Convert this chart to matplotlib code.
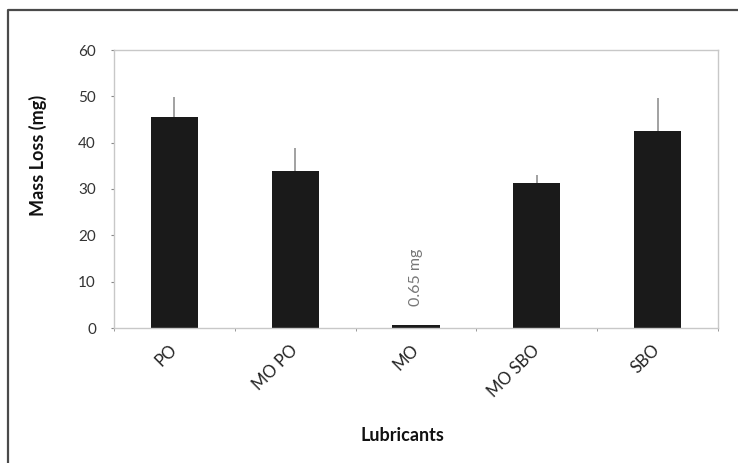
import matplotlib
matplotlib.use("Agg")
import matplotlib.pyplot as plt
from matplotlib.lines import Line2D
import numpy as np

# Wear test results
lubricants = ["PO", "MO PO", "MO", "MO SBO", "SBO"]
mass_loss = [45.6, 33.9, 0.65, 31.2, 42.5]
err_up = [4.3, 4.9, 0.0, 1.8, 7.2]
y_ticks = [0, 10, 20, 30, 40, 50, 60]
mo_note = "0.65 mg"

plt.rcParams["font.family"] = ["Lato", "DejaVu Sans"]

fig = plt.figure(figsize=(7.38, 4.63), dpi=100)
fig.patch.set_facecolor("white")

# outer frame (left and top edges visible)
fx, fy = 8 / 738, 1 - 10 / 463
fig.add_artist(Line2D([fx, fx, 1.0], [0.0, fy, fy], transform=fig.transFigure,
                      color="#4a4a4a", lw=1.6))

ax = fig.add_axes([114 / 738, 1 - 328 / 463, 604 / 738, 278 / 463])
x = np.arange(len(lubricants))
ax.bar(x, mass_loss, width=0.39, color="#1a1a1a", zorder=2)
ax.errorbar(x, mass_loss, yerr=[[0] * len(err_up), err_up], fmt="none",
            ecolor="#9a9a9a", elinewidth=1.3, capsize=0, zorder=3)

ax.set_xlim(-0.5, len(lubricants) - 0.5)
ax.set_ylim(0, 60)
ax.set_yticks(y_ticks)
ax.set_yticklabels([str(t) for t in y_ticks], color="#333333", fontsize=11)
ax.set_xticks(x)
ax.set_xticklabels(lubricants, rotation=45, ha="right", va="center",
                   rotation_mode="anchor", fontsize=12, color="#222222")
ax.tick_params(axis="x", length=0, pad=14)
ax.set_xticks(np.arange(-0.5, len(lubricants), 1.0), minor=True)
ax.tick_params(axis="x", which="minor", length=2, color="#888888")
ax.tick_params(axis="y", length=2, color="#888888", pad=11)

for s in ax.spines.values():
    s.set_color("#c8c8c8")
    s.set_linewidth(1.0)

ax.set_ylabel("Mass Loss (mg)", fontsize=13, fontweight="bold", color="#111111")
ax.yaxis.set_label_coords(-0.111, 0.62)
ax.set_xlabel("Lubricants", fontsize=13, fontweight="bold", color="#111111")
ax.xaxis.set_label_coords(0.477, -0.355)

ax.annotate(mo_note, xy=(x[2], mass_loss[2]), xytext=(0, 14),
            textcoords="offset points", rotation=90, ha="center", va="bottom",
            fontsize=11.5, color="#777777")

fig.savefig("out.png", dpi=100, facecolor="white")
